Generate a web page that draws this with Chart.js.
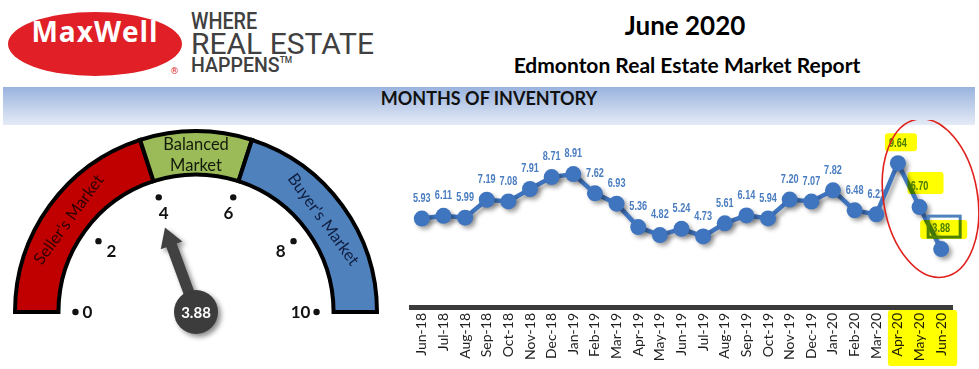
<!DOCTYPE html>
<html>
<head>
<meta charset="utf-8">
<script src="https://cdn.jsdelivr.net/npm/chart.js@4.4.1/dist/chart.umd.min.js"></script>
<style>
  html, body { margin: 0; padding: 0; background: #fff; }
  body { width: 979px; height: 369px; position: relative; overflow: hidden; font-family: Lato, "Open Sans", sans-serif; }
  .abs { position: absolute; white-space: nowrap; }
  #logoOval { left: 8px; top: 12px; width: 174px; height: 64px; border-radius: 50%; background: #e01f26; }
  #logoName { left: 8px; top: 12px; width: 174px; height: 64px; line-height: 62px; text-align: center; color: #fff; font: 700 28px "Open Sans", sans-serif; letter-spacing: 1px; }
  #logoReg { left: 170px; top: 66px; font: 9px "DejaVu Sans", sans-serif; color: #e01f26; }
  .tag { left: 191px; color: #404040; font-family: Roboto, sans-serif; line-height: 1; transform-origin: left top; }
  #tag1 { top: 10px; font-size: 23px; font-weight: 500; transform: scaleX(0.86); }
  #tag2 { top: 29px; font-size: 30px; font-weight: 400; }
  #tag3 { top: 55px; font-size: 21px; font-weight: 500; transform: scaleX(0.93); }
  #tag3 sup { font-size: 9px; vertical-align: 9px; }
  #title { left: 560px; width: 250px; top: 12px; text-align: center; font: 700 26px Lato, sans-serif; line-height: 26px; color: #000; }
  #subtitle { left: 437px; width: 500px; top: 54px; text-align: center; font: 700 21px Lato, sans-serif; line-height: 21px; color: #000; }
  #band { left: 3px; top: 87px; width: 972px; height: 38px; background: linear-gradient(#9ab3de, #e4ebf6); }
  #bandText { left: 3px; top: 87px; width: 972px; height: 38px; line-height: 36px; text-align: center; font: 700 18px Lato, sans-serif; color: #111; }
  #gauge { left: 0; top: 120px; }
  #trend { left: 390px; top: 120px; }
</style>
</head>
<body>
<div class="abs" id="logoOval"></div>
<div class="abs" id="logoName">MaxWell</div>
<div class="abs" id="logoReg">®</div>
<div class="abs tag" id="tag1">WHERE</div>
<div class="abs tag" id="tag2">REAL ESTATE</div>
<div class="abs tag" id="tag3">HAPPENS<sup>TM</sup></div>
<div class="abs" id="title">June 2020</div>
<div class="abs" id="subtitle">Edmonton Real Estate Market Report</div>
<div class="abs" id="band"></div>
<div class="abs" id="bandText">MONTHS OF INVENTORY</div>
<canvas class="abs" id="gauge" width="392" height="249"></canvas>
<canvas class="abs" id="trend" width="589" height="249"></canvas>
<script>
  const months = ["Jun-18", "Jul-18", "Aug-18", "Sep-18", "Oct-18", "Nov-18", "Dec-18",
    "Jan-19", "Feb-19", "Mar-19", "Apr-19", "May-19", "Jun-19", "Jul-19", "Aug-19", "Sep-19",
    "Oct-19", "Nov-19", "Dec-19", "Jan-20", "Feb-20", "Mar-20", "Apr-20", "May-20", "Jun-20"];
  const inventory = [5.93, 6.11, 5.99, 7.19, 7.08, 7.91, 8.71, 8.91, 7.62, 6.93, 5.36, 4.82,
    5.24, 4.73, 5.61, 6.14, 5.94, 7.20, 7.07, 7.82, 6.48, 6.21, 9.64, 6.70, 3.88];
  const circledMonths = ["Apr-20", "May-20", "Jun-20"];

  const zoneNames = [["Seller's Market"], ["Balanced", "Market"], ["Buyer's Market"]];
  const zoneWidths = [4, 2, 4];
  const zoneColors = ["#c00000", "#9bbb59", "#4f81bd"];
  const zoneTextColors = ["#2e0000", "#141a0a", "#0f1e40"];
  const gaugeTicks = [0, 2, 4, 6, 8, 10];
  const currentValue = inventory[inventory.length - 1];

  const lineBlue = "#3f74be";
  const labelBlue = "#4a7dc0";

  const gaugeDecor = {
    id: "gaugeDecor",
    afterDatasetsDraw(chart) {
      const ctx = chart.ctx;
      const arcs = chart.getDatasetMeta(0).data;
      const cx = arcs[0].x;
      const cy = arcs[0].y;
      const inner = arcs[0].innerRadius;
      const total = zoneWidths.reduce((a, b) => a + b, 0);
      const angleOf = (v) => -Math.PI + (v / total) * Math.PI;

      // zone names, written along the band
      arcs.forEach((el, i) => {
        const mid = (el.startAngle + el.endAngle) / 2;
        const r = (el.innerRadius + el.outerRadius) / 2 - 2;
        const lines = chart.data.labels[i];
        ctx.save();
        ctx.translate(cx + r * Math.cos(mid), cy + r * Math.sin(mid));
        ctx.rotate(mid + Math.PI / 2);
        ctx.fillStyle = zoneTextColors[i];
        ctx.font = "16.5px Lato";
        ctx.textAlign = "center";
        ctx.textBaseline = "middle";
        lines.forEach((t, j) => ctx.fillText(t, 0, (j - (lines.length - 1) / 2) * 21));
        ctx.restore();
      });

      // tick dots and numbers
      gaugeTicks.forEach((v) => {
        const a = angleOf(v);
        const dr = inner - 17;
        const lr = inner - 33;
        ctx.fillStyle = "#111";
        ctx.beginPath();
        ctx.arc(cx + dr * Math.cos(a), cy + dr * Math.sin(a), 3.2, 0, Math.PI * 2);
        ctx.fill();
        ctx.font = "bold 17px Lato";
        ctx.textAlign = "center";
        ctx.textBaseline = "middle";
        ctx.fillText(String(v), cx + lr * Math.cos(a) - (v === 0 ? 4 : 0), cy + lr * Math.sin(a) + 1);
      });

      // needle
      const a = angleOf(currentValue);
      ctx.save();
      ctx.translate(cx, cy);
      ctx.shadowColor = "rgba(0,0,0,0.45)";
      ctx.shadowBlur = 5;
      ctx.shadowOffsetX = 3;
      ctx.shadowOffsetY = 3;
      ctx.fillStyle = "#414141";
      ctx.rotate(a);
      ctx.beginPath();
      ctx.moveTo(0, -5.5);
      ctx.lineTo(71, -5.5);
      ctx.lineTo(71, -11.5);
      ctx.lineTo(90, 0);
      ctx.lineTo(71, 11.5);
      ctx.lineTo(71, 5.5);
      ctx.lineTo(0, 5.5);
      ctx.closePath();
      ctx.fill();
      ctx.rotate(-a);
      ctx.fillStyle = "#3c3c3c";
      ctx.beginPath();
      ctx.arc(0, 0, 22, 0, Math.PI * 2);
      ctx.fill();
      ctx.restore();

      ctx.fillStyle = "#fff";
      ctx.font = "bold 15px Lato";
      ctx.textAlign = "center";
      ctx.textBaseline = "middle";
      ctx.fillText(currentValue.toFixed(2), cx, cy + 1);
    }
  };

  const trendDecor = {
    id: "trendDecor",
    beforeDatasetDraw(chart) {
      const ctx = chart.ctx;
      ctx.save();
      ctx.shadowColor = "rgba(0,0,0,0.35)";
      ctx.shadowBlur = 4;
      ctx.shadowOffsetX = 3;
      ctx.shadowOffsetY = 3;
    },
    afterDatasetDraw(chart) {
      chart.ctx.restore();
    },
    afterDatasetsDraw(chart) {
      const ctx = chart.ctx;
      const points = chart.getDatasetMeta(0).data;
      ctx.save();
      ctx.fillStyle = labelBlue;
      ctx.font = "bold 12px 'Liberation Sans'";
      ctx.textAlign = "center";
      ctx.textBaseline = "middle";
      points.forEach((p, i) => {
        ctx.save();
        ctx.translate(p.x, p.y - 20);
        ctx.scale(0.76, 1);
        ctx.fillText(inventory[i].toFixed(2), 0, 0);
        ctx.restore();
      });
      ctx.restore();
    },
    afterDraw(chart) {
      const ctx = chart.ctx;
      const points = chart.getDatasetMeta(0).data;
      const idx = circledMonths.map((m) => months.indexOf(m));
      const [p1, p2, p3] = idx.map((i) => points[i]);
      const axisY = chart.scales.x.top;

      // blue box drawn round the last value
      ctx.save();
      ctx.strokeStyle = "#4f81bd";
      ctx.lineWidth = 3;
      ctx.strokeRect(p3.x - 13, p3.y - 33, 32, 21);
      ctx.restore();

      // yellow marker highlights
      ctx.save();
      ctx.globalCompositeOperation = "multiply";
      ctx.fillStyle = "#ffff00";
      const box = (x, y, w, h) => {
        ctx.beginPath();
        ctx.roundRect(x, y, w, h, 3);
        ctx.fill();
      };
      box(p1.x - 13, p1.y - 30, 32, 18);
      box(p2.x - 12, p2.y - 35, 36, 22);
      box(p3.x - 21, p3.y - 29, 47, 19);
      box(p1.x - 10, axisY + 3, p3.x - p1.x + 26, 56);
      ctx.restore();

      // hand drawn red ring
      ctx.save();
      ctx.strokeStyle = "#e0201c";
      ctx.lineWidth = 1.6;
      ctx.beginPath();
      ctx.ellipse(p2.x + 11, (p1.y + p3.y) / 2 - 8, 47, 80, -0.17, 0, Math.PI * 2);
      ctx.stroke();
      ctx.restore();
    }
  };

  new Chart(document.getElementById("gauge"), {
    type: "doughnut",
    data: {
      labels: zoneNames,
      datasets: [{
        data: zoneWidths,
        backgroundColor: zoneColors,
        borderColor: "#000",
        borderWidth: 4,
        borderJoinStyle: "miter",
        clip: false
      }]
    },
    options: {
      responsive: false,
      animation: false,
      events: [],
      circumference: 180,
      rotation: -90,
      radius: 181,
      cutout: "76%",
      layout: { padding: { bottom: 46 } },
      plugins: { legend: { display: false }, tooltip: { enabled: false } }
    },
    plugins: [gaugeDecor]
  });

  new Chart(document.getElementById("trend"), {
    type: "line",
    data: {
      labels: months,
      datasets: [{
        data: inventory,
        borderColor: lineBlue,
        backgroundColor: lineBlue,
        borderWidth: 4.5,
        pointRadius: 8,
        pointBackgroundColor: lineBlue,
        pointBorderWidth: 0,
        tension: 0,
        clip: false
      }]
    },
    options: {
      responsive: false,
      animation: false,
      events: [],
      layout: { padding: { left: 21, right: 27, top: 7, bottom: 0 } },
      plugins: { legend: { display: false }, tooltip: { enabled: false } },
      scales: {
        x: {
          offset: true,
          grid: { display: false, drawTicks: false },
          border: { display: true, color: "#3b3b3b", width: 5 },
          ticks: {
            minRotation: 90,
            maxRotation: 90,
            autoSkip: false,
            padding: 6,
            color: "#1e1e1e",
            font: { family: "Lato", size: 14 }
          },
          afterFit: (scale) => { scale.height = 62; }
        },
        y: { display: false, min: 0, max: 12 }
      }
    },
    plugins: [trendDecor]
  });
</script>
</body>
</html>
